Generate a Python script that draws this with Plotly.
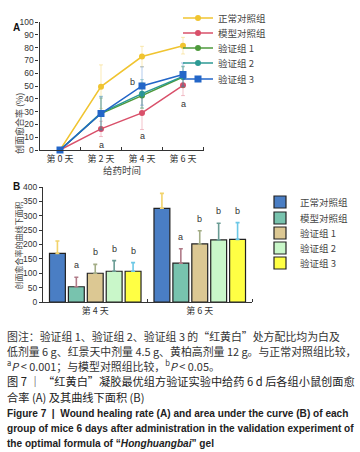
import plotly.graph_objects as go

# ---------------- Panel A data ----------------
days = ["第 0 天", "第 2 天", "第 4 天", "第 6 天"]
groups = ["正常对照组", "模型对照组", "验证组 1", "验证组 2", "验证组 3"]
rate_normal = [0, 49.5, 73, 81.5]
rate_model = [0, 16.5, 29, 50.5]
rate_g1 = [0, 28.5, 42.5, 57]
rate_g2 = [0, 29, 44, 57.5]
rate_g3 = [0, 28.5, 50, 59]
err_normal = [0, 17, 8, 6.5]
err_model = [0, 6, 13, 8]
err_g1 = [0, 12, 10, 8]
err_g2 = [0, 13, 11, 8]
err_g3 = [0, 13, 15, 9]

# ---------------- Panel B data ----------------
auc_days = ["第 4 天", "第 6 天"]
auc_normal = [169, 326]
auc_model = [53, 135]
auc_g1 = [100, 202]
auc_g2 = [107, 216]
auc_g3 = [107, 218]
auc_err_normal = [43, 52]
auc_err_model = [33, 50]
auc_err_g1 = [31, 46]
auc_err_g2 = [37, 58]
auc_err_g3 = [30, 58]

line_colors = ["#f0c430", "#d9506a", "#4e9a3c", "#2c9a94", "#2366c8"]
err_line_colors = ["rgba(240,196,48,0.35)", "rgba(217,80,106,0.35)", "rgba(78,154,60,0.35)",
                   "rgba(44,154,148,0.35)", "rgba(35,102,200,0.35)"]
bar_colors = ["#4a7ec4", "#78c3ae", "#dcc893", "#c9f7c9", "#ffff44"]
bar_err_colors = ["#f2d36b", "#b07b88", "#a3ad86", "#6a9c94", "#6cc8e6"]

W, H = 360, 452
def px_x(p):
    return p / W
def px_y(p):
    return 1 - p / H

CJK = "Noto Sans CJK SC"
LAT = "Liberation Sans"

fig = go.Figure()

rates = [rate_normal, rate_model, rate_g1, rate_g2, rate_g3]
errs = [err_normal, err_model, err_g1, err_g2, err_g3]
symbols = ["circle", "circle", "circle", "circle", "square"]
xi = list(range(len(days)))
for i in range(5):
    lid = "legend" if i == 0 else "legend%d" % (i + 1)
    fig.add_trace(go.Scatter(
        x=xi, y=rates[i], name=groups[i], mode="lines+markers",
        line=dict(color=line_colors[i], width=1.5),
        marker=dict(color=line_colors[i], size=6 if symbols[i] == "circle" else 7, symbol=symbols[i]),
        error_y=dict(type="data", array=errs[i], color=err_line_colors[i], thickness=1, width=2),
        xaxis="x", yaxis="y", legend=lid, cliponaxis=False,
    ))

aucs = [auc_normal, auc_model, auc_g1, auc_g2, auc_g3]
auc_errs = [auc_err_normal, auc_err_model, auc_err_g1, auc_err_g2, auc_err_g3]
for i in range(5):
    fig.add_trace(go.Bar(
        x=auc_days, y=aucs[i], name=groups[i],
        marker=dict(color=bar_colors[i], line=dict(color="#222", width=1.2)),
        error_y=dict(type="data", symmetric=False, array=auc_errs[i], arrayminus=[0, 0],
                     color=bar_err_colors[i], thickness=1.6, width=2),
        xaxis="x2", yaxis="y2", legend="legend%d" % (i + 6),
    ))

axis_line = dict(showline=True, linecolor="#333", linewidth=1.2, showgrid=False, zeroline=False)

fig.update_layout(
    width=W, height=H, margin=dict(l=0, r=0, t=0, b=0, autoexpand=False),
    paper_bgcolor="white", plot_bgcolor="white",
    barmode="group", bargap=0.095, bargroupgap=0.16,
    xaxis=dict(domain=[px_x(39.5), px_x(203.5)], range=[-0.5, 3.5], anchor="y",
               tickmode="array", tickvals=xi, ticktext=days, ticks="",
               tickfont=dict(family=CJK, size=9, color="#333"),
               minor=dict(tickmode="array", tickvals=[0.5, 1.5, 2.5, 3.5], ticks="inside",
                          ticklen=3, tickcolor="#333"),
               **axis_line),
    yaxis=dict(domain=[px_y(150), px_y(22)], range=[0, 100], anchor="x",
               tickmode="linear", tick0=0, dtick=10, ticks="outside", ticklen=3, tickcolor="#333",
               tickfont=dict(family=LAT, size=8.5, color="#333"),
               **axis_line),
    xaxis2=dict(domain=[px_x(43), px_x(252)], range=[-0.5, 1.5], anchor="y2",
                type="category", ticks="",
                tickfont=dict(family=CJK, size=9, color="#333"),
                minor=dict(tickmode="array", tickvals=[0.5, 1.5], ticks="inside",
                           ticklen=3, tickcolor="#333"),
                **axis_line),
    yaxis2=dict(domain=[px_y(302), px_y(187)], range=[0, 400], anchor="x2",
                tickmode="linear", tick0=0, dtick=50, ticks="outside", ticklen=3, tickcolor="#333",
                tickfont=dict(family=LAT, size=8.5, color="#333"),
                **axis_line),
    showlegend=True,
)

# one legend box per entry so the entries sit at the reference spacing
legA_y = [18, 33, 48, 63, 79]
legB_y = [202, 218, 233, 248, 263]
for i in range(5):
    key = "legend" if i == 0 else "legend%d" % (i + 1)
    fig.update_layout({key: dict(x=px_x(178), y=px_y(legA_y[i]), xanchor="left", yanchor="middle",
                                 font=dict(family=CJK, size=9.5, color="#444"),
                                 bgcolor="rgba(0,0,0,0)", itemwidth=30)})
    fig.update_layout({"legend%d" % (i + 6): dict(x=px_x(260), y=px_y(legB_y[i]), xanchor="left",
                                                  yanchor="middle",
                                                  font=dict(family=CJK, size=9.5, color="#444"),
                                                  bgcolor="rgba(0,0,0,0)", itemwidth=30)})

ann = []
# panel labels
ann.append(dict(text="<b>A</b>", x=px_x(11), y=px_y(20), xref="paper", yref="paper",
                showarrow=False, font=dict(family=LAT, size=10, color="#111")))
ann.append(dict(text="<b>B</b>", x=px_x(11), y=px_y(186), xref="paper", yref="paper",
                showarrow=False, font=dict(family=LAT, size=10, color="#111")))
# axis titles
ann.append(dict(text="给药时间", x=px_x(122), y=px_y(170), xref="paper", yref="paper",
                showarrow=False, font=dict(family=CJK, size=9.5, color="#444")))
ann.append(dict(text="创面愈合率 (%)", x=px_x(11), y=px_y(91), xref="paper", yref="paper",
                textangle=-90, showarrow=False, font=dict(family=CJK, size=9, color="#444")))
ann.append(dict(text="创面愈合率的曲线下面积", x=px_x(11), y=px_y(246), xref="paper", yref="paper",
                textangle=-90, showarrow=False, font=dict(family=CJK, size=8, color="#444")))

# significance letters panel A
sigA = [(1, 4, "a"), (2, 11, "a"), (1.78, 53, "b"), (3, 36, "a")]
for x, y, t in sigA:
    ann.append(dict(text=t, x=x, y=y, xref="x", yref="y", showarrow=False,
                    font=dict(family=LAT, size=9, color="#333")))

# significance letters panel B (above error bars)
sig_letters = ["", "a", "b", "b", "b"]
slot = 19
for gi in range(1, 5):
    for di, d in enumerate(auc_days):
        top = aucs[gi][di] + auc_errs[gi][di]
        ann.append(dict(text=sig_letters[gi], x=d, y=top, xref="x2", yref="y2",
                        xshift=(gi - 2) * slot, yshift=12, showarrow=False,
                        font=dict(family=LAT, size=9, color="#333")))

caption = [
    ("图注：验证组 1、验证组 2、验证组 3 的“红黄白”处方配比均为白及", 336, CJK, 10.9, "#333"),
    ("低剂量 6 g、红景天中剂量 4.5 g、黄柏高剂量 12 g。与正常对照组比较，", 351, CJK, 10.9, "#333"),
    ("<sup>a</sup><i>P</i> < 0.001；与模型对照组比较，<sup>b</sup><i>P</i> < 0.05。", 365, CJK, 10.9, "#333"),
    ("图 7 ｜ “红黄白”凝胶最优组方验证实验中给药 6 d 后各组小鼠创面愈", 381, CJK, 11.2, "#222"),
    ("合率 (A) 及其曲线下面积 (B)", 397, CJK, 11.2, "#222"),
    ("<b>Figure 7  |  Wound healing rate (A) and area under the curve (B) of each</b>", 413, LAT, 10.1, "#222"),
    ("<b>group of mice 6 days after administration in the validation experiment of</b>", 428, LAT, 10.1, "#222"),
    ("<b>the optimal formula of “<i>Honghuangbai</i>” gel</b>", 443, LAT, 10.1, "#222"),
]
for txt, yp, fam, sz, col in caption:
    ann.append(dict(text=txt, x=px_x(5), y=px_y(yp), xref="paper", yref="paper",
                    xanchor="left", yanchor="middle", showarrow=False,
                    font=dict(family=fam, size=sz, color=col)))

fig.update_layout(annotations=ann)
fig.write_html("out.html", config={"displayModeBar": False},
               post_script="document.body.style.margin='0';")
